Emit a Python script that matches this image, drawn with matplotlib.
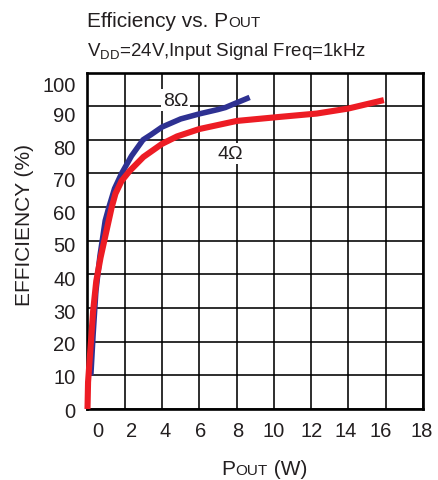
import matplotlib
matplotlib.use("Agg")
import matplotlib.pyplot as plt
import matplotlib.transforms as mtransforms

plt.rcParams['font.family'] = ['Liberation Sans', 'DejaVu Sans']
plt.rcParams['mathtext.fontset'] = 'custom'
plt.rcParams['mathtext.rm'] = 'Liberation Sans'

TXT = '#231f20'

# 8 ohm curve
pout_8 = [0.18, 0.3, 0.45, 0.67, 0.79, 0.95, 1.15, 1.45, 1.83, 2.36, 2.98, 3.4,
          4.0, 5.0, 6.0, 7.0, 7.4, 8.0, 8.7]
eff_8 = [10.0, 22.0, 35.0, 45.6, 50.0, 56.0, 60.0, 65.5, 70.0, 75.2, 80.0, 81.5,
         83.8, 86.2, 87.7, 89.0, 89.6, 91.0, 92.6]

# 4 ohm curve
pout_4 = [0.0, 0.03, 0.12, 0.3, 0.47, 0.7, 0.9, 1.1, 1.3, 1.5, 1.83, 2.27, 3.0,
          4.0, 4.8, 6.0, 8.0, 10.3, 12.3, 14.0, 15.9]
eff_4 = [0.0, 8.0, 15.0, 29.0, 38.0, 45.0, 50.0, 55.0, 60.0, 64.0, 67.8, 70.8, 74.9,
         78.8, 81.0, 83.2, 85.6, 86.8, 87.8, 89.3, 91.8]

xticks = list(range(0, 19, 2))
yticks = list(range(0, 101, 10))
# slight label misalignment of the original sheet (pixels)
xlab_shift = [10, 6.5, 3.5, 1, 1, 0, 0, -3, -5, -1]
ylab_shift = [0, 0, 0.5, 2.5, 2.7, 3, 4.7, 5, 7, 7.3, 11.5]

W, H = 439, 481
fig = plt.figure(figsize=(W / 100, H / 100), dpi=100)
L, R, T, B = 87.5, 423, 73.5, 410
ax = fig.add_axes([L / W, 1 - B / H, (R - L) / W, (B - T) / H])

ax.set_xlim(0, 18)
ax.set_ylim(0, 100)
ax.set_xticks(xticks)
ax.set_yticks(yticks)
ax.grid(True, color='black', linewidth=1.15)
ax.set_axisbelow(True)
ax.tick_params(length=0, labelsize=14.5, labelcolor=TXT, pad=8.5)
for s in ax.spines.values():
    s.set_linewidth(1.9)
    s.set_color('black')

for lab, dx in zip(ax.get_xticklabels(), xlab_shift):
    lab.set_transform(lab.get_transform() + mtransforms.Affine2D().translate(dx, 0))
for lab, dy in zip(ax.get_yticklabels(), ylab_shift):
    lab.set_transform(lab.get_transform() + mtransforms.Affine2D().translate(0, -dy))

ax.plot(pout_8, eff_8, color='#2e3192', linewidth=4.0, solid_capstyle='butt',
        solid_joinstyle='round', zorder=5)
ax.plot(pout_4, eff_4, color='#ed1c24', linewidth=4.4, solid_capstyle='butt',
        solid_joinstyle='round', zorder=6, clip_on=False)

bb = dict(facecolor='white', edgecolor='none', pad=1.5)
ax.text(4.72, 91.8, '8Ω', fontsize=14, color=TXT, ha='center', va='center', bbox=bb, zorder=4)
ax.text(7.66, 75.9, '4Ω', fontsize=14, color=TXT, ha='center', va='center', bbox=bb, zorder=4)

# title with small caps subscript
t1 = fig.text(87 / W, 1 - 27 / H, 'Efficiency vs. P', fontsize=15, color=TXT, va='baseline')
fig.canvas.draw()
ext = t1.get_window_extent()
fig.text(ext.x1 / W, 1 - 27 / H, 'OUT', fontsize=11, color=TXT, va='baseline')

fig.text(87 / W, 1 - 56 / H, r'V$_\mathregular{DD}$=24V,Input Signal Freq=1kHz',
         fontsize=13.5, color=TXT, va='baseline')

# x label
xl = fig.text(221.5 / W, 1 - 475 / H, 'P', fontsize=15, color=TXT, va='baseline')
fig.canvas.draw()
e = xl.get_window_extent()
xl2 = fig.text(e.x1 / W, 1 - 475 / H, 'OUT', fontsize=11, color=TXT, va='baseline')
fig.canvas.draw()
e2 = xl2.get_window_extent()
fig.text(e2.x1 / W, 1 - 475 / H, ' (W)', fontsize=15, color=TXT, va='baseline')

fig.text(25 / W, 1 - 225.5 / H, 'EFFICIENCY (%)', fontsize=15, color=TXT,
         rotation=90, ha='center', va='center')

fig.savefig('out.png', dpi=100)
